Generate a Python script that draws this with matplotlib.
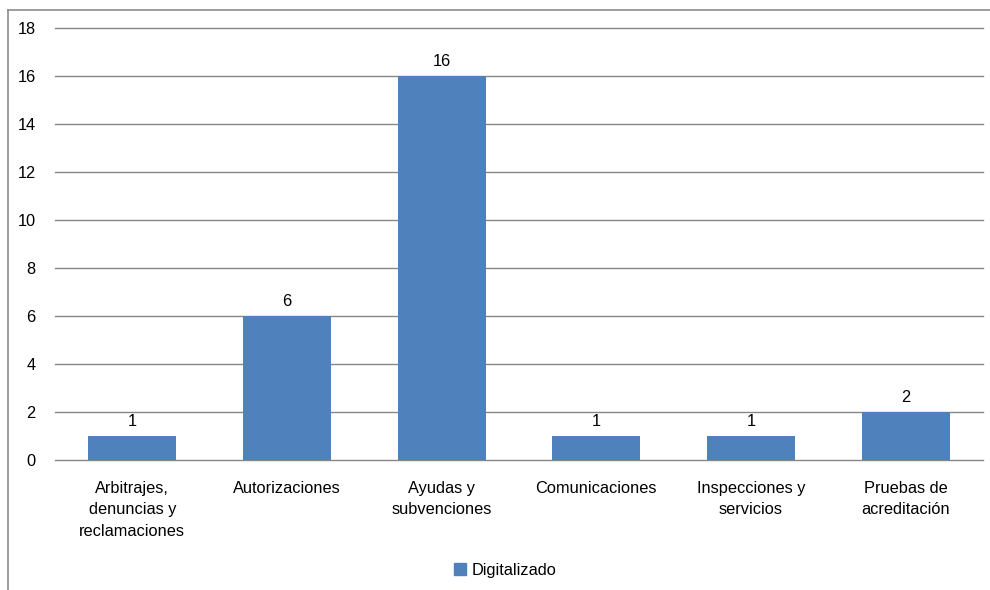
import matplotlib.pyplot as plt
from matplotlib.lines import Line2D

categories = ['Arbitrajes,\ndenuncias y\nreclamaciones', 'Autorizaciones', 'Ayudas y\nsubvenciones',
              'Comunicaciones', 'Inspecciones y\nservicios', 'Pruebas de\nacreditación']
values = [1, 6, 16, 1, 1, 2]
series_name = 'Digitalizado'
y_ticks = [0, 2, 4, 6, 8, 10, 12, 14, 16, 18]

bar_color = '#4F81BD'
grid_color = '#868686'

plt.rcParams['font.family'] = ['Liberation Sans', 'DejaVu Sans']
plt.rcParams['font.size'] = 11.8

fig = plt.figure(figsize=(9.9, 5.9), dpi=100)
ax = fig.add_axes([55 / 990, 1 - 460 / 590, (983 - 55) / 990, (460 - 28) / 590])

x = range(len(categories))
bars = ax.bar(x, values, width=0.57, color=bar_color, zorder=3)

for xi, v in zip(x, values):
    ax.annotate(str(v), (xi, v), xytext=(0, 5), textcoords='offset points',
                ha='center', va='bottom')

ax.set_xlim(-0.5, len(categories) - 0.5)
ax.set_ylim(0, 18)
ax.set_yticks(y_ticks)
ax.set_xticks(list(x))
ax.set_xticklabels(categories, linespacing=1.55)
ax.tick_params(axis='both', length=0)
ax.tick_params(axis='y', pad=14)
ax.tick_params(axis='x', pad=15)
for t in y_ticks:
    ax.axhline(t, color=grid_color, linewidth=1.0, zorder=0, clip_on=False)
for s in ax.spines.values():
    s.set_visible(False)

handle = Line2D([], [], marker='s', color='none', markerfacecolor=bar_color,
                markeredgecolor=bar_color, markersize=9)
fig.legend([handle], [series_name], loc='center', bbox_to_anchor=(505 / 990, 1 - 570 / 590),
           frameon=False, handlelength=0.8, handletextpad=0.3)

# outer chart border (only left and top visible in the crop)
fig.add_artist(Line2D([8 / 990, 8 / 990], [0, 1 - 10 / 590], transform=fig.transFigure,
                      color='#8c8c8c', linewidth=1.2))
fig.add_artist(Line2D([8 / 990, 1], [1 - 10 / 590, 1 - 10 / 590], transform=fig.transFigure,
                      color='#8c8c8c', linewidth=1.2))

fig.savefig('out.png', dpi=100)
